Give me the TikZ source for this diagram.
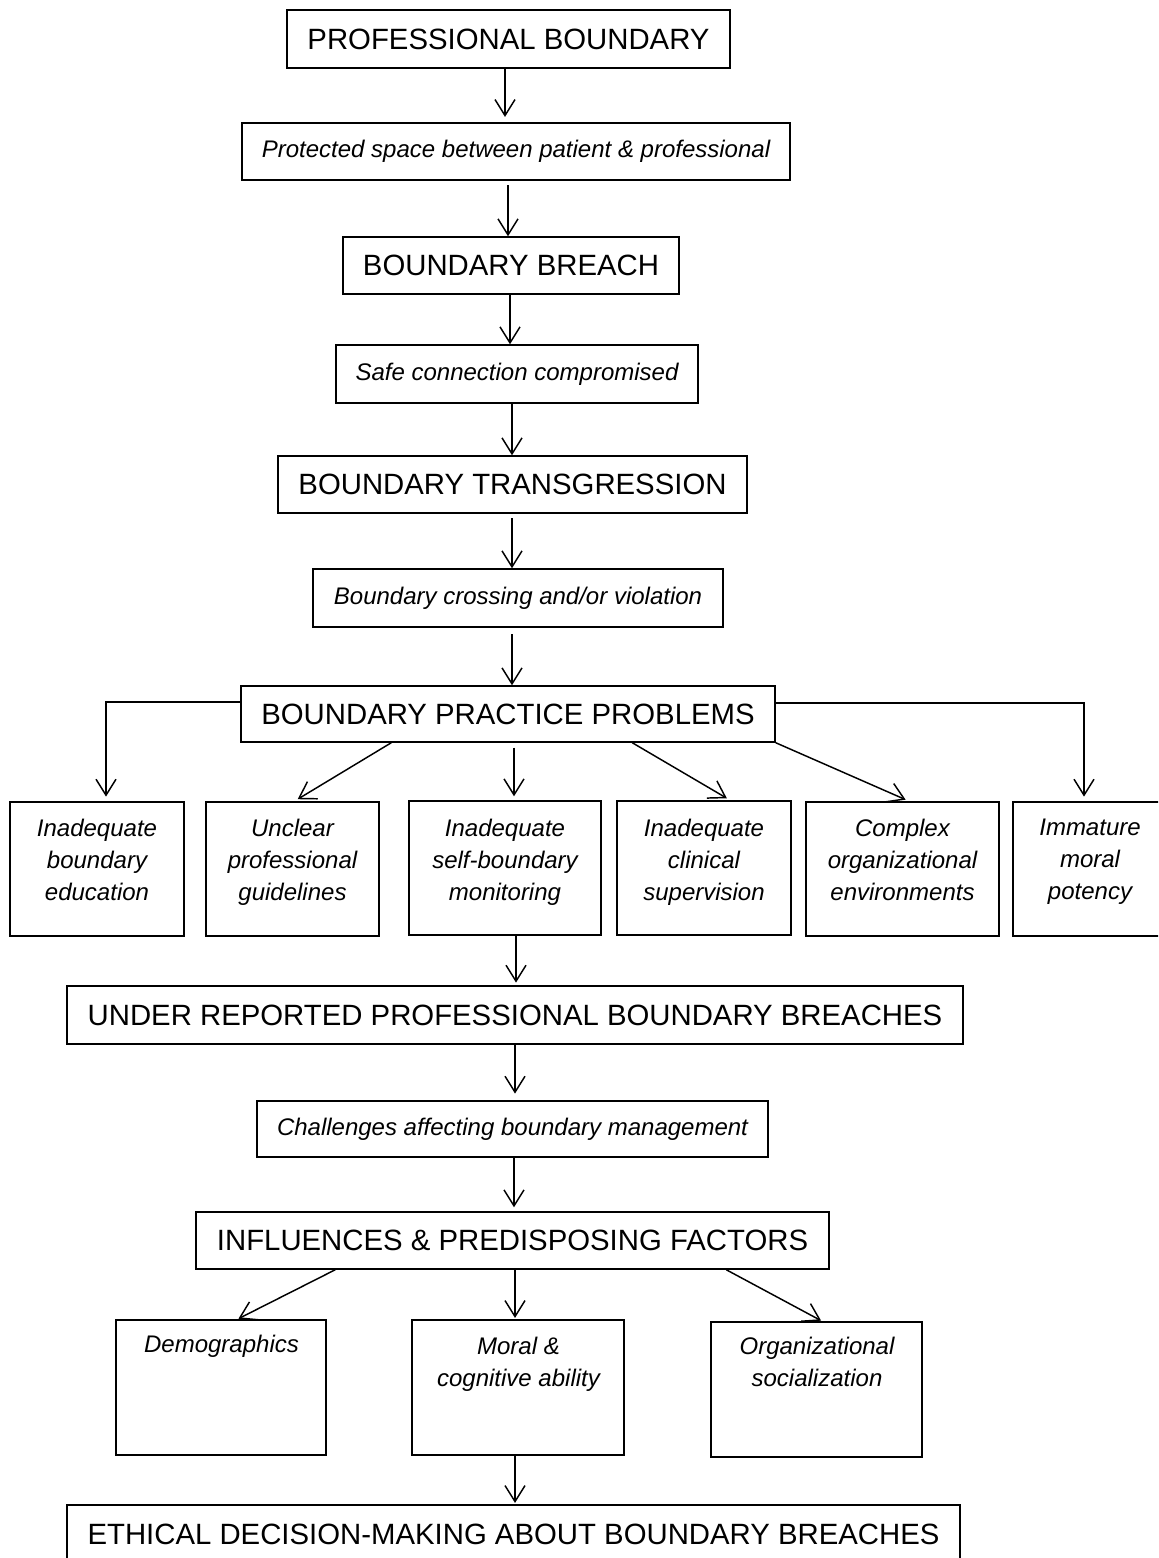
\documentclass[tikz,border=0pt]{standalone}
\usepackage{fontspec}
\setmainfont{Liberation Sans}
\usetikzlibrary{arrows.meta}
\newcommand\bigf{\fontsize{22}{26}\selectfont}
\newcommand\smf{\fontsize{18}{24}\selectfont\itshape}
\begin{document}
\begin{tikzpicture}[x=0.75pt, y=-0.75pt,
  box/.style={draw, line width=1.1pt, inner sep=0pt},
  hd/.style={box, font=\bigf},
  sm/.style={box, font=\smf},
  rowbox/.style={box, minimum height=100.5pt},
  lowbox/.style={box, minimum height=101.25pt},
  txt/.style={font=\smf, align=center, inner sep=0pt, anchor=north, execute at begin node=\strut},
  arr/.style={line width=1.1pt, -{Straight Barb[length=12pt,width=15pt]}}]
\useasboundingbox (0,0) rectangle (1158,1558);
\clip (0,0) rectangle (1158,1558);
\fill[white] (0,0) rectangle (1158,1558);

% main chain
\node[hd, minimum width=332.25pt, minimum height=43.5pt] (pb) at (508.5,39) {PROFESSIONAL BOUNDARY};
\node[sm, minimum width=411pt, minimum height=42.75pt] (pr) at (516,151.5) {Protected space between patient \& professional};
\node[hd, minimum width=252pt, minimum height=42.75pt] (bb) at (511,265.5) {BOUNDARY BREACH};
\node[sm, minimum width=271.5pt, minimum height=43.5pt] (sc) at (517,374) {Safe connection compromised};
\node[hd, minimum width=351.75pt, minimum height=42.75pt] (bt) at (512.5,484.5) {BOUNDARY TRANSGRESSION};
\node[sm, minimum width=307.5pt, minimum height=43.5pt] (cv) at (518,598) {Boundary crossing and/or violation};
\node[hd, minimum width=400.5pt, minimum height=42pt] (pp) at (508,714) {BOUNDARY PRACTICE PROBLEMS};

% row of problems
\node[rowbox, minimum width=130.5pt] (b1) at (97,869) {};
\node[rowbox, minimum width=129.75pt] (b2) at (292.5,869) {};
\node[rowbox, minimum width=144pt] (b3) at (505,868) {};
\node[rowbox, minimum width=130.5pt] (b4) at (704,868) {};
\node[rowbox, minimum width=144.75pt] (b5) at (902.5,869) {};
\node[rowbox, minimum width=115.5pt] (b6) at (1090,869) {};
\node[txt] (t1) at (97,818.6) {Inadequate\\boundary\\education};
\node[txt] (t2) at (292.5,818.6) {Unclear\\professional\\guidelines};
\node[txt] (t3) at (505,818.6) {Inadequate\\self-boundary\\monitoring};
\node[txt] (t4) at (704,818.6) {Inadequate\\clinical\\supervision};
\node[txt] (t5) at (902.5,818.6) {Complex\\organizational\\environments};
\node[txt] (t6) at (1090,818.6) {Immature\\moral\\potency};

\node[hd, minimum width=672pt, minimum height=43.5pt] (ur) at (515,1015) {UNDER REPORTED PROFESSIONAL BOUNDARY BREACHES};
\node[sm, minimum width=383.25pt, minimum height=42pt] (ch) at (512.5,1129) {Challenges affecting boundary management};
\node[hd, minimum width=474.75pt, minimum height=42.75pt] (inf) at (512.5,1240.5) {INFLUENCES \& PREDISPOSING FACTORS};

% lower row
\node[lowbox, minimum width=157.5pt] (dm) at (221,1387.5) {};
\node[lowbox, minimum width=159pt] (mc) at (518,1387.5) {};
\node[lowbox, minimum width=158.25pt] (os) at (816.5,1389.5) {};
\node[txt] (t7) at (221.5,1329.6) {Demographics};
\node[txt] (t8) at (518.5,1336.6) {Moral \&\\cognitive ability};
\node[txt] (t9) at (817,1336.6) {Organizational\\socialization};

\node[hd, minimum width=669.75pt, minimum height=43.5pt] (et) at (513.5,1534) {ETHICAL DECISION-MAKING ABOUT BOUNDARY BREACHES};

% connectors, main chain
\draw[arr, shorten >=4pt] (505,0 |- pb.south) -- (505,0 |- pr.north);
\draw[arr, shorten <=3.5pt] (508,0 |- pr.south) -- (508,0 |- bb.north);
\draw[arr] (510,0 |- bb.south) -- (510,0 |- sc.north);
\draw[arr] (512,0 |- sc.south) -- (512,0 |- bt.north);
\draw[arr, shorten <=3.5pt] (512,0 |- bt.south) -- (512,0 |- cv.north);
\draw[arr, shorten <=5pt] (512,0 |- cv.south) -- (512,0 |- pp.north);

% practice problems fan-out
\draw[arr, shorten >=3.5pt] ([yshift=9pt]pp.west) -| ([xshift=6.75pt]b1.north);
\draw[arr, shorten >=3.5pt] ([yshift=8.25pt]pp.east) -| ([xshift=-4.5pt]b6.north);
\draw[arr, shorten >=3pt] ([xshift=113.25pt]pp.south west) -- ([xshift=66.75pt]b2.north west);
\draw[arr, shorten <=3.75pt, shorten >=3pt] (514,0 |- pp.south) -- (514,0 |- b3.north);
\draw[arr, shorten >=3pt] ([xshift=294pt]pp.south west) -- ([xshift=85.5pt]b4.north west);
\draw[arr, shorten >=3pt] (pp.south east) -- ([xshift=78pt]b5.north west);

% lower chain
\draw[arr, shorten >=2pt] (516,0 |- b3.south) -- (516,0 |- ur.north);
\draw[arr, shorten >=5pt] (515,0 |- ur.south) -- (515,0 |- ch.north);
\draw[arr, shorten >=3pt] (514,0 |- ch.south) -- (514,0 |- inf.north);
\draw[arr, shorten >=1pt] ([xshift=105pt]inf.south west) -- ([xshift=91.5pt]dm.north west);
\draw[arr, shorten >=1pt] (515,0 |- inf.south) -- (515,0 |- mc.north);
\draw[arr, shorten >=1pt] ([xshift=398.25pt]inf.south west) -- ([xshift=84pt]os.north west);
\draw[arr, shorten >=1pt] (515,0 |- mc.south) -- (515,0 |- et.north);
\end{tikzpicture}
\end{document}
